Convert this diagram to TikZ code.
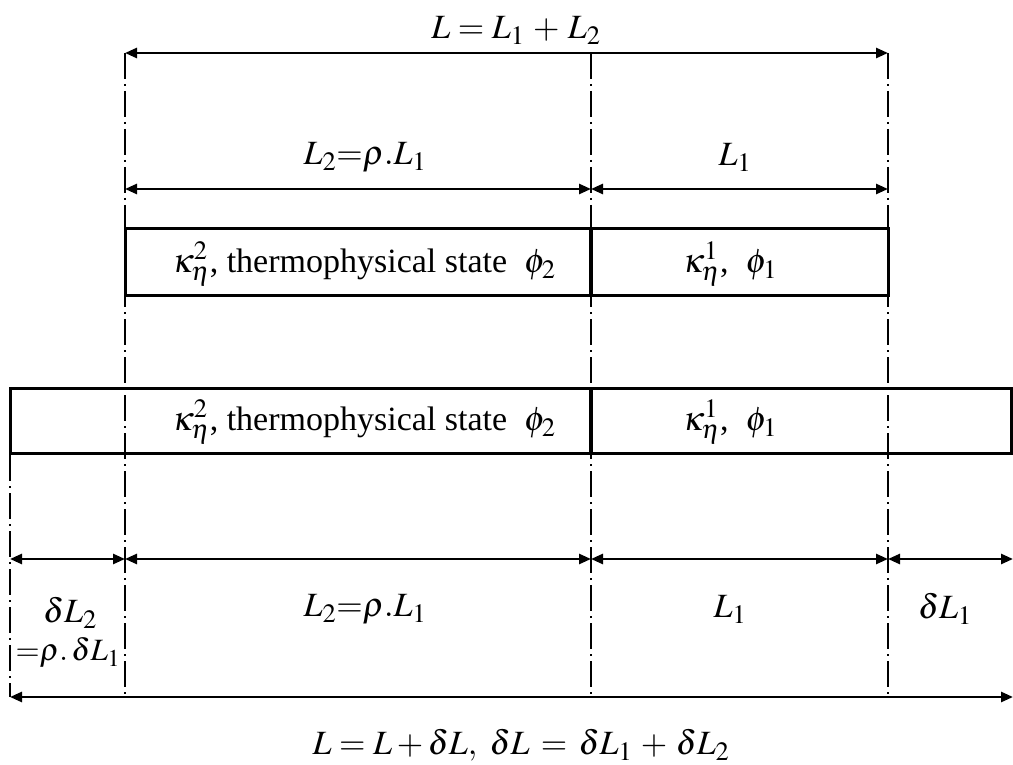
\documentclass[tikz,border=0pt]{standalone}
\usepackage{mathptmx}
\usepackage{fontspec}
\setmainfont{Liberation Serif}
\usetikzlibrary{arrows.meta}
\renewcommand\defaultscriptratio{.78}
\begin{document}
\begin{tikzpicture}[x=1pt,y=-1pt,
  dim/.style={line width=2.6pt, {Triangle[length=12pt,width=10pt]}-{Triangle[length=12pt,width=10pt]}},
  guide/.style={line width=1.5pt, dash pattern=on 26pt off 5pt on 2pt off 5pt},
  cell/.style={line width=3pt},
  divider/.style={line width=4.5pt},
  lbl/.style={font=\fontsize{34}{40}\selectfont, inner sep=0pt},
  smalllbl/.style={font=\fontsize{31}{36}\selectfont, inner sep=0pt},
  celltext/.style={font=\fontsize{34}{40}\selectfont, inner sep=0pt}]
\useasboundingbox (0,0) rectangle (1013,765);

% guide end points
\coordinate (gA1) at (10,455);  \coordinate (gA2) at (10,697);
\coordinate (gB1) at (125,53);  \coordinate (gB2) at (125,697);
\coordinate (gC1) at (591,53);  \coordinate (gC2) at (591,697);
\coordinate (gD1) at (888,53);  \coordinate (gD2) at (888,697);

% dimension end points
\coordinate (r1B) at (125,53);  \coordinate (r1D) at (888,53);
\coordinate (r2B) at (125,189); \coordinate (r2C) at (591,189); \coordinate (r2D) at (888,189);
\coordinate (r3A) at (10,559);  \coordinate (r3B) at (125,559); \coordinate (r3C) at (591,559);
\coordinate (r3D) at (888,559); \coordinate (r3E) at (1013,559);
\coordinate (r4A) at (10,697);  \coordinate (r4E) at (1013,697);

% guide lines
\draw[guide] (gA1) -- (gA2);
\draw[guide] (gB1) -- (gB2);
\draw[guide] (gC1) -- (gC2);
\draw[guide] (gD1) -- (gD2);

% bars
\draw[cell] (125,229) rectangle (888,295);
\draw[divider] (591,229) -- (591,295);
\draw[cell] (10,388) rectangle (1011.5,453);
\draw[divider] (591,388) -- (591,453);

% bar texts
\node[celltext] (t1a) at (364,264) {$\kappa_\eta^2$, thermophysical state\ \ $\phi_2$};
\node[celltext] (t1b) at (730,264) {$\kappa_\eta^1$,\ \ $\phi_1$};
\node[celltext] (t2a) at (364,422) {$\kappa_\eta^2$, thermophysical state\ \ $\phi_2$};
\node[celltext] (t2b) at (730,422) {$\kappa_\eta^1$,\ \ $\phi_1$};

% row 1
\node[lbl] (Ltop) at (516,30) {$L = L_1 \mathbin{\,+\,} L_2$};
\draw[dim] (r1B) -- (r1D);

% row 2
\node[lbl] (L2a) at (365,157) {$L_2{=}\rho.L_1$};
\node[lbl] (L1a) at (735,157) {$L_1$};
\draw[dim] (r2B) -- (r2C);
\draw[dim] (r2C) -- (r2D);

% row 3
\draw[dim] (r3A) -- (r3B);
\draw[dim] (r3B) -- (r3C);
\draw[dim] (r3C) -- (r3D);
\draw[dim] (r3D) -- (r3E);
\node[lbl] (dL2) at (70,613) {$\delta L_2$};
\node[smalllbl] (dL2b) at (68,653) {${=}\rho.\,\delta L_1$};
\node[lbl] (L2b) at (365,609) {$L_2{=}\rho.L_1$};
\node[lbl] (L1b) at (730,609) {$L_1$};
\node[lbl] (dL1) at (945,609) {$\delta L_1$};

% row 4
\draw[dim] (r4A) -- (r4E);
\node[lbl] (Lbot) at (521,745) {$L = L + \delta L,\ \delta L \mathrel{\,=\,} \delta L_1 \mathbin{\,+\,} \delta L_2$};
\end{tikzpicture}
\end{document}
